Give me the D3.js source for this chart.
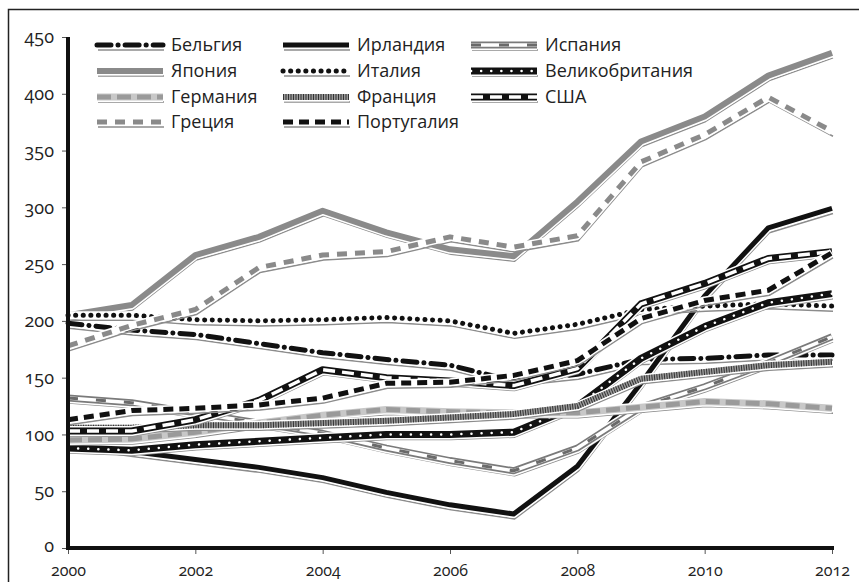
<!DOCTYPE html>
<html>
<head>
<meta charset="utf-8">
<script src="https://cdn.jsdelivr.net/npm/d3@7"></script>
<style>
  body { margin: 0; background: #fff; }
  svg text { font-family: "Open Sans", "Noto Sans", sans-serif; fill: #222; }
  .tick-lbl { font-variant-numeric: oldstyle-nums; font-feature-settings: "onum"; }
</style>
</head>
<body>
<svg id="chart" width="859" height="582"></svg>
<script>
// years on the x axis
var years = [2000, 2001, 2002, 2003, 2004, 2005, 2006, 2007, 2008, 2009, 2010, 2011, 2012];
var xTicks = [2000, 2002, 2004, 2006, 2008, 2010, 2012];
var yTicks = [0, 50, 100, 150, 200, 250, 300, 350, 400, 450];

// series values
var belgium  = [198, 192, 188, 180, 172, 166, 161, 147, 153, 166, 167, 170, 170];
var ireland  = [93, 85, 78, 71, 62, 49, 38, 30, 72, 145, 222, 282, 299];
var spain    = [132, 128, 119, 110, 101, 88, 77, 68, 88, 124, 142, 163, 186];
var japan    = [205, 214, 258, 274, 297, 278, 263, 257, 305, 358, 380, 416, 436];
var italy    = [205, 205, 201, 200, 201, 203, 200, 189, 197, 210, 213, 215, 213];
var uk       = [88, 86, 91, 94, 97, 100, 100, 102, 125, 167, 195, 216, 224];
var germany  = [95, 96, 102, 110, 117, 122, 120, 119, 119, 124, 129, 127, 123];
var france   = [106, 106, 108, 108, 110, 112, 115, 118, 125, 149, 155, 161, 164];
var usa      = [103, 103, 113, 130, 157, 150, 147, 143, 158, 215, 233, 255, 261];
var greece   = [178, 196, 210, 247, 258, 261, 274, 265, 275, 340, 364, 397, 367];
var portugal = [113, 121, 123, 126, 132, 145, 146, 152, 165, 202, 218, 227, 260];

// legend order (3 columns, filled row by row)
var names = ['Бельгия', 'Ирландия', 'Испания', 'Япония', 'Италия', 'Великобритания',
             'Германия', 'Франция', 'США', 'Греция', 'Португалия'];
var values = [belgium, ireland, spain, japan, italy, uk, germany, france, usa, greece, portugal];

// how each line is drawn: a stack of strokes
var styles = {
  'Бельгия': [{c: '#111', w: 5, d: '14,7,0.1,7', cap: 'round'}],
  'Ирландия': [{c: '#111', w: 5}],
  'Испания': [{c: '#7a7a7a', w: 7}, {c: '#fff', w: 3.5}, {c: '#6a6a6a', w: 3, d: '10,18'}],
  'Япония': [{c: '#8a8a8a', w: 6}],
  'Италия': [{c: '#111', w: 5, d: '0.1,7.5', cap: 'round'}],
  'Великобритания': [{c: '#111', w: 7}, {c: '#fff', w: 2.5, d: '0.1,10', cap: 'round'}],
  'Германия': [{c: '#c8c8c8', w: 7}, {c: '#9a9a9a', w: 5, d: '14,6'}],
  'Франция': [{c: '#9a9a9a', w: 6}, {c: '#333', w: 6, d: '1,1.5'}],
  'США': [{c: '#111', w: 7}, {c: '#fff', w: 3.5, d: '12,7'}],
  'Греция': [{c: '#8a8a8a', w: 5, d: '10,8'}],
  'Португалия': [{c: '#111', w: 5, d: '10,6'}]
};

var svg = d3.select('#chart');

// frame (only top and left edges are visible in the crop)
svg.append('rect')
  .attr('x', 8.5).attr('y', 9.5)
  .attr('width', 1000).attr('height', 1000)
  .attr('fill', 'none').attr('stroke', '#222').attr('stroke-width', 1.5);

var x = d3.scaleLinear().domain([2000, 2012]).range([68, 832]);
var y = d3.scaleLinear().domain([0, 450]).range([548, 37]);

var line = d3.line()
  .x(function (d, i) { return x(years[i]); })
  .y(function (d) { return y(d); });

function drawStroke(g, pathData, name, dx, dy) {
  var layers = styles[name];
  var maxW = d3.max(layers, function (l) { return l.w; });
  // drop shadow
  g.append('path').attr('d', pathData)
    .attr('transform', 'translate(' + (dx + 1) + ',' + (dy + 5) + ')')
    .attr('fill', 'none').attr('stroke', '#8c8c8c').attr('stroke-width', 1.5)
    .attr('stroke-linejoin', 'round');
  // white halo
  g.append('path').attr('d', pathData)
    .attr('transform', 'translate(' + dx + ',' + dy + ')')
    .attr('fill', 'none').attr('stroke', '#fff').attr('stroke-width', maxW + 3)
    .attr('stroke-linejoin', 'round');
  layers.forEach(function (l) {
    g.append('path').attr('d', pathData)
      .attr('transform', 'translate(' + dx + ',' + dy + ')')
      .attr('fill', 'none')
      .attr('stroke', l.c)
      .attr('stroke-width', l.w)
      .attr('stroke-dasharray', l.d || null)
      .attr('stroke-linecap', l.cap || 'butt')
      .attr('stroke-linejoin', 'round');
  });
}

// lines
var linesG = svg.append('g');
names.forEach(function (name, k) {
  drawStroke(linesG.append('g'), line(values[k]), name, 0, 0);
});

// axes
var yAxis = d3.axisLeft(y).tickValues(yTicks).tickSize(6).tickPadding(8);
var gy = svg.append('g').attr('transform', 'translate(68,0)').call(yAxis);
var xAxis = d3.axisBottom(x).tickValues(xTicks).tickFormat(d3.format('d')).tickSize(6).tickPadding(10.5);
var gx = svg.append('g').attr('transform', 'translate(0,548)').call(xAxis);

[gy, gx].forEach(function (g) {
  g.select('.domain').remove();
  g.selectAll('.tick line').attr('stroke', '#555').attr('stroke-width', 1);
  g.selectAll('.tick text')
    .attr('class', 'tick-lbl')
    .style('font-size', '18px')
    .style('fill', '#222');
});
gx.selectAll('.tick text').style('font-size', '16px').attr('dy', '0.71em');
gy.selectAll('.tick text').filter(function (d) { return d === 0; }).attr('dy', '0.2em');

svg.append('line').attr('x1', 68).attr('x2', 68).attr('y1', 37).attr('y2', 550)
  .attr('stroke', '#111').attr('stroke-width', 4);
svg.append('line').attr('x1', 66).attr('x2', 834).attr('y1', 548).attr('y2', 548)
  .attr('stroke', '#111').attr('stroke-width', 4);

// legend
var colX = [97, 283, 471];
var rowY = [45, 71, 97, 122];
var legend = svg.append('g');
names.forEach(function (name, k) {
  var cx = colX[k % 3], cy = rowY[Math.floor(k / 3)];
  var g = legend.append('g');
  drawStroke(g, 'M0,0L66,0', name, cx, cy);
  g.append('text')
    .attr('x', cx + 74).attr('y', cy)
    .attr('dy', '0.35em')
    .style('font-size', '18px')
    .text(name);
});
</script>
</body>
</html>
